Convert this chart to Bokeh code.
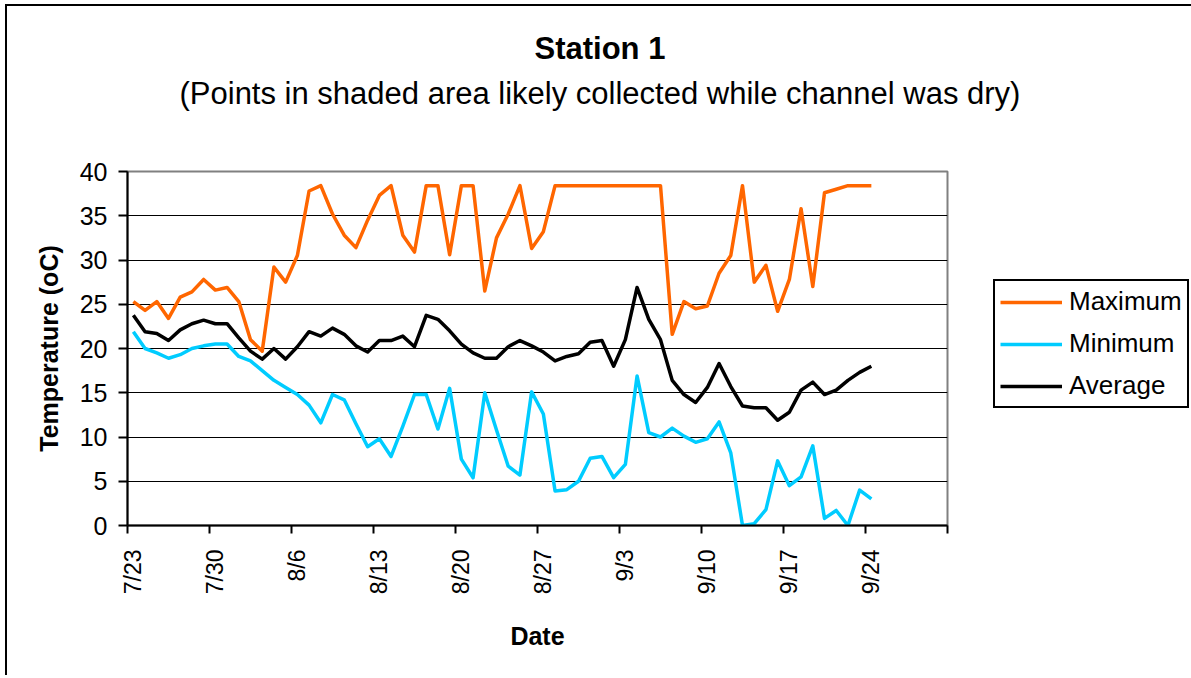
import numpy as np
from bokeh.plotting import figure
from bokeh.models import FixedTicker, Legend, LegendItem, Title, Range1d
from bokeh.embed import file_html
from bokeh.resources import INLINE

# ---- data -------------------------------------------------------------
tick_labels = ["7/23", "7/30", "8/6", "8/13", "8/20", "8/27", "9/3", "9/10", "9/17", "9/24"]
n_categories = 70          # daily categories 7/23 .. 9/30
days_per_label = 7

maximum = [25.3, 24.3, 25.3, 23.4, 25.8, 26.4, 27.8, 26.6, 26.9, 25.3,
           21.0, 19.7, 29.2, 27.5, 30.5, 37.8, 38.4, 35.2, 32.8, 31.4,
           34.5, 37.3, 38.4, 32.8, 30.9, 38.4, 38.4, 30.6, 38.4, 38.4,
           26.5, 32.5, 35.2, 38.4, 31.3, 33.2, 38.4, 38.4, 38.4, 38.4,
           38.4, 38.4, 38.4, 38.4, 38.4, 38.4, 21.6, 25.3, 24.5, 24.8,
           28.5, 30.5, 38.4, 27.5, 29.4, 24.2, 27.8, 35.8, 27.0, 37.6,
           38.0, 38.4, 38.4, 38.4]
minimum = [21.9, 20.0, 19.5, 18.9, 19.3, 20.0, 20.3, 20.5, 20.5, 19.1,
           18.6, 17.5, 16.4, 15.6, 14.8, 13.6, 11.6, 14.8, 14.2, 11.5,
           8.9, 9.8, 7.8, 11.2, 14.8, 14.8, 10.9, 15.5, 7.5, 5.4,
           15.0, 10.8, 6.7, 5.7, 15.1, 12.6, 3.9, 4.05, 5.0, 7.6,
           7.8, 5.4, 6.9, 16.9, 10.5, 10.0, 11.0, 10.1, 9.4, 9.8,
           11.7, 8.2, 0.0, 0.2, 1.8, 7.3, 4.5, 5.5, 9.0, 0.8,
           1.7, 0.0, 4.0, 3.0]
average = [23.75, 21.9, 21.7, 20.9, 22.1, 22.8, 23.2, 22.8, 22.8, 21.2,
           19.7, 18.8, 20.0, 18.8, 20.2, 21.9, 21.4, 22.3, 21.6, 20.3,
           19.6, 20.9, 20.9, 21.4, 20.2, 23.75, 23.3, 22.0, 20.5, 19.5,
           18.9, 18.9, 20.2, 20.9, 20.3, 19.6, 18.6, 19.1, 19.4, 20.7,
           20.9, 18.0, 21.0, 26.9, 23.3, 21.0, 16.4, 14.8, 13.9, 15.6,
           18.3, 15.7, 13.5, 13.3, 13.3, 11.9, 12.8, 15.3, 16.2, 14.8,
           15.3, 16.4, 17.3, 18.0]
y_ticks = [0, 5, 10, 15, 20, 25, 30, 35, 40]

series_names = ["Maximum", "Minimum", "Average"]
series_colors = ["#FF6600", "#00CCFF", "#000000"]

title_text = "Station 1"
subtitle_text = "(Points in shaded area likely collected while channel was dry)"

FONT = "Liberation Sans"

days = list(range(len(maximum)))

p = figure(frame_width=820, frame_height=354,
           x_range=Range1d(-0.5, n_categories - 0.5),
           y_range=Range1d(0, 40),
           output_backend="svg", toolbar_location=None,
           min_border_left=120, min_border_right=242,
           min_border_top=165, min_border_bottom=150,
           title=title_text)
p.styles = {"border-left": "2px solid black", "border-top": "2px solid black",
            "margin-left": "5px", "margin-top": "4px"}
p.background_fill_color = "white"
p.border_fill_color = "white"
p.outline_line_color = "#808080"
p.outline_line_width = 2

# titles: main title is outermost; above-panel items stack outward from the frame
p.title.text_font = FONT
p.title.text_font_size = "31px"
p.title.text_font_style = "bold"
p.title.text_color = "black"
p.title.align = "left"
p.title.offset = 407
p.title.standoff = 16
# spacer nearest the frame
p.add_layout(Title(text=" ", text_font=FONT, text_font_size="1px",
                   text_color="white", align="left", standoff=58), "above")
p.add_layout(Title(text=subtitle_text, text_font=FONT, text_font_size="31px",
                   text_font_style="normal", text_color="black",
                   align="left", offset=52, standoff=0), "above")

renderers = []
for vals, name, col in zip([maximum, minimum, average], series_names, series_colors):
    r = p.line(days, vals, line_color=col, line_width=3.5, line_join="round")
    renderers.append(r)

# x axis
label_pos = [i * days_per_label for i in range(len(tick_labels))]
bounds = [i * days_per_label - 0.5 for i in range(n_categories // days_per_label + 1)]
xa = p.xaxis[0]
xa.ticker = FixedTicker(ticks=label_pos, minor_ticks=bounds)
xa.major_label_overrides = {pos: lbl for pos, lbl in zip(label_pos, tick_labels)}
xa.major_label_orientation = np.pi / 2
xa.major_tick_out = 0
xa.major_tick_in = 0
xa.minor_tick_out = 8
xa.minor_tick_in = 0
xa.minor_tick_line_color = "black"
xa.minor_tick_line_width = 2
xa.major_label_standoff = 16
xa.major_label_text_font_size = "23px"
xa.axis_label = "Date"
xa.axis_label_standoff = 25

# y axis
ya = p.yaxis[0]
ya.ticker = FixedTicker(ticks=y_ticks)
ya.major_tick_out = 9
ya.major_tick_in = 0
ya.minor_tick_line_color = None
ya.major_label_standoff = 11
ya.major_label_text_font_size = "25px"
ya.axis_label = "Temperature (oC)"
ya.axis_label_standoff = 14

for ax in [xa, ya]:
    ax.axis_line_color = "black"
    ax.axis_line_width = 2
    ax.major_tick_line_color = "black"
    ax.major_tick_line_width = 2
    ax.major_label_text_font = FONT
    ax.major_label_text_color = "black"
    ax.axis_label_text_font = FONT
    ax.axis_label_text_font_size = "25px"
    ax.axis_label_text_font_style = "bold"
    ax.axis_label_text_color = "black"

p.xgrid.visible = False
p.ygrid.ticker = FixedTicker(ticks=y_ticks[1:-1])
p.ygrid.grid_line_color = "black"
p.ygrid.grid_line_width = 1

legend = Legend(items=[LegendItem(label=n, renderers=[r]) for n, r in zip(series_names, renderers)],
                location=(46, 117))
legend.label_text_font = FONT
legend.label_text_font_size = "26px"
legend.label_text_color = "black"
legend.glyph_width = 62
legend.glyph_height = 26
legend.label_height = 26
legend.label_standoff = 7
legend.spacing = 11
legend.padding = 5
legend.margin = 0
legend.border_line_color = "black"
legend.border_line_alpha = 1
legend.border_line_width = 2
legend.background_fill_color = "white"
legend.background_fill_alpha = 1
p.add_layout(legend, "right")

open("out.html", "w").write(file_html(p, INLINE))
